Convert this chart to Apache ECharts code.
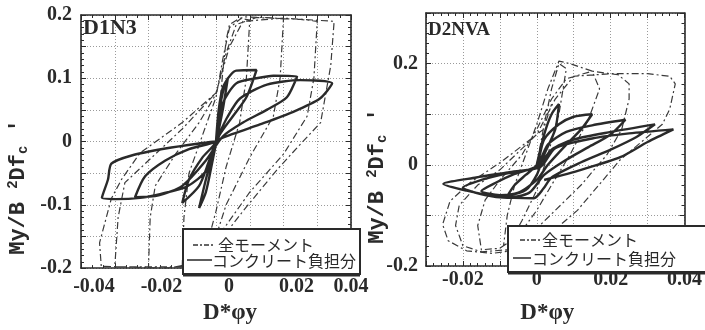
<!DOCTYPE html>
<html><head><meta charset="utf-8">
<script src="https://cdn.jsdelivr.net/npm/echarts@6/dist/echarts.min.js"></script>
<style>html,body{margin:0;padding:0;background:#fff}#c{width:705px;height:330px}</style>
</head><body><div id="c"></div>
<script>
// ---- data ----
const panelNames = ['D1N3', 'D2NVA'];
const seriesNames = ['全モーメント', 'コンクリート負担分'];
const xAxisTitle = 'D*φy';
const leftXTicks = [-0.04, -0.02, 0, 0.02, 0.04];
const leftYTicks = [-0.2, -0.1, 0, 0.1, 0.2];
const rightXTicks = [-0.02, 0, 0.02, 0.04];
const rightYTicks = [-0.2, 0, 0.2];

// D1N3 total moment (dash-dot)
const d1n3Total = [
  [0,0],[0.001,0.05],[0.002,0.11],[0.003,0.16],[0.004,0.185],[0.007,0.195],[0.010,0.192],
  [0.009,0.10],[0.007,0.03],[0.003,-0.04],[0.0,-0.11],[-0.003,-0.17],[-0.006,-0.193],[-0.010,-0.197],
  [-0.0095,-0.12],[-0.008,-0.05],[-0.004,0.01],[0.0,0.07],[0.002,0.13],[0.004,0.18],[0.008,0.197],[0.015,0.196],[0.020,0.194],
  [0.019,0.10],[0.017,0.04],[0.010,-0.025],[0.003,-0.10],[0.0,-0.15],[-0.004,-0.19],[-0.010,-0.198],[-0.020,-0.198],
  [-0.0195,-0.12],[-0.018,-0.07],[-0.012,-0.02],[-0.005,0.03],[0.0,0.075],[0.003,0.14],[0.006,0.185],[0.012,0.196],[0.025,0.193],[0.030,0.19],
  [0.029,0.10],[0.027,0.04],[0.020,-0.02],[0.010,-0.08],[0.0,-0.155],[-0.005,-0.19],[-0.012,-0.198],[-0.030,-0.198],
  [-0.029,-0.12],[-0.027,-0.065],[-0.020,-0.03],[-0.010,0.02],[0.0,0.077],[0.004,0.15],[0.008,0.19],[0.020,0.195],[0.035,0.19],
  [0.034,0.12],[0.031,0.03],[0.024,-0.01],[0.018,-0.045],[0.008,-0.11],[0.0,-0.165],[-0.006,-0.195],[-0.015,-0.2],[-0.034,-0.197],
  [-0.0345,-0.16],[-0.031,-0.09],[-0.028,-0.06],[-0.0225,-0.018],[-0.010,0.03],[0.0,0.077]
];
// D1N3 concrete share (solid)
const d1n3Concrete = [
  [0,0],[0.0008,0.05],[0.002,0.085],[0.0035,0.10],[0.002,0.05],[0.0005,0.01],[-0.001,-0.03],[-0.003,-0.08],[-0.005,-0.105],[-0.003,-0.06],[-0.001,-0.02],[0,0],
  [0.001,0.05],[0.003,0.095],[0.006,0.112],[0.012,0.113],[0.009,0.07],[0.005,0.04],[0.001,0.01],[-0.002,-0.03],[-0.005,-0.07],[-0.010,-0.097],[-0.008,-0.06],[-0.004,-0.025],[0,0],
  [0.002,0.06],[0.006,0.092],[0.012,0.10],[0.017,0.104],[0.024,0.103],[0.021,0.07],[0.015,0.05],[0.008,0.03],[0.002,0.008],[-0.003,-0.03],[-0.010,-0.07],[-0.017,-0.085],[-0.024,-0.088],[-0.021,-0.055],[-0.015,-0.03],[-0.008,-0.012],[0,0],
  [0.0006,0.008],[0.0033,0.038],[0.0071,0.068],[0.0151,0.09],[0.025,0.097],[0.0344,0.092],[0.0308,0.068],[0.0229,0.047],[0.013,0.027],[0.005,0.012],[0,0],
  [-0.0027,-0.045],[-0.0086,-0.071],[-0.0166,-0.083],[-0.0225,-0.089],[-0.0296,-0.091],[-0.0338,-0.089],[-0.032,-0.06],[-0.031,-0.035],[-0.025,-0.022],[-0.015,-0.011],[-0.005,-0.003],[0,0]
];
// D2NVA total moment (dash-dot)
const d2nvaTotal = [
  [0,0],[0.002,0.08],[0.004,0.15],[0.006,0.20],[0.008,0.19],[0.006,0.10],[0.003,0.02],[0.0,-0.05],[-0.004,-0.11],[-0.007,-0.15],[-0.009,-0.16],
  [-0.008,-0.10],[-0.006,-0.04],[-0.003,0.02],[0.0,0.08],[0.003,0.15],[0.006,0.205],[0.009,0.20],[0.015,0.185],[0.017,0.15],[0.014,0.09],
  [0.009,0.02],[0.004,-0.04],[0.0,-0.09],[-0.005,-0.14],[-0.010,-0.165],[-0.015,-0.168],[-0.016,-0.12],[-0.014,-0.07],[-0.010,-0.03],
  [-0.004,0.02],[0.0,0.07],[0.004,0.13],[0.008,0.17],[0.015,0.185],[0.022,0.178],[0.025,0.16],[0.025,0.13],[0.023,0.07],[0.019,0.02],
  [0.012,-0.04],[0.005,-0.09],[-0.002,-0.14],[-0.008,-0.168],[-0.015,-0.172],[-0.020,-0.16],[-0.022,-0.12],[-0.021,-0.08],[-0.016,-0.04],
  [-0.010,-0.01],[0.0,0.06],[0.005,0.13],[0.010,0.175],[0.020,0.18],[0.030,0.18],[0.036,0.175],[0.0375,0.16],[0.036,0.11],[0.034,0.08],
  [0.0226,0.01],[0.011,-0.09],[0.003,-0.14],[-0.005,-0.168],[-0.012,-0.175],[-0.019,-0.17],[-0.024,-0.15],[-0.0255,-0.118],[-0.0235,-0.072],
  [-0.018,-0.035],[-0.0096,0.006],[0.0018,0.07],[0.004,0.12]
];
// D2NVA concrete share (solid)
const d2nvaConcrete = [
  [0,0],[0.002,0.06],[0.004,0.10],[0.006,0.12],[0.005,0.07],[0.002,0.02],[0.0,-0.02],[-0.003,-0.05],[-0.008,-0.062],[-0.006,-0.04],[-0.003,-0.02],[0.0,0.0],
  [0.002,0.05],[0.006,0.08],[0.010,0.095],[0.015,0.10],[0.012,0.07],[0.008,0.04],[0.003,0.0],[0.0,-0.03],[-0.005,-0.055],[-0.010,-0.06],[-0.015,-0.052],[-0.011,-0.035],[-0.006,-0.018],[0.0,-0.002],
  [0.003,0.04],[0.008,0.065],[0.015,0.078],[0.024,0.089],[0.020,0.06],[0.014,0.035],[0.008,0.01],[0.002,-0.02],[-0.002,-0.055],[-0.008,-0.065],[-0.014,-0.06],[-0.020,-0.045],[-0.015,-0.03],[-0.008,-0.017],[0.0,-0.005],
  [0.004,0.03],[0.010,0.05],[0.020,0.065],[0.032,0.08],[0.027,0.055],[0.020,0.03],[0.012,0.005],[0.004,-0.025],[0.0018,-0.047],[-0.0008,-0.066],[-0.0104,-0.063],[-0.019,-0.051],[-0.0253,-0.038],[-0.0164,-0.025],[-0.0078,-0.015],[0.001,-0.004],
  [0.005,0.033],[0.015,0.052],[0.025,0.062],[0.037,0.07],[0.030,0.045],[0.0226,0.015],[0.012,-0.01],[0.002,-0.03]
];

// ---- styling ----
const SERIF = '"Liberation Serif", "DejaVu Serif", serif';
const MONO = '"Liberation Mono", "DejaVu Sans Mono", monospace';
const CJK = '"Noto Sans CJK JP", sans-serif';
const INK = '#2a2a2a';

function hasTick(list, v) { return list.some(t => Math.abs(t - v) < 1e-9); }
function fmt(v, d) { return Math.abs(v) < 1e-9 ? '0' : v.toFixed(d); }

const labelBase = { fontFamily: SERIF, fontWeight: 'bold', fontSize: 20, color: INK };
const lineStyleAxis = { color: INK, width: 1.6 };
const grid0 = { left: 81, top: 15, width: 270, height: 263 };
const grid1 = { left: 426, top: 13, width: 269, height: 260 };

function frameAxis(extra) {
  return Object.assign({
    type: 'value', axisLine: { show: true, onZero: false, lineStyle: lineStyleAxis },
    axisTick: { show: true, inside: true, length: 5, lineStyle: { color: INK } },
    minorTick: { show: true, length: 3, lineStyle: { color: INK } },
    axisLabel: { show: false }, splitLine: { show: false }
  }, extra);
}
const gridLine = { show: true, lineStyle: { color: '#9a9a9a', type: [1, 2], width: 1 } };
const nameStyle = { fontFamily: SERIF, fontWeight: 'bold', fontSize: 23, color: INK };

const option = {
  backgroundColor: '#ffffff',
  animation: false,
  grid: [grid0, grid1],
  xAxis: [
    frameAxis({ gridIndex: 0, position: 'bottom', min: -0.04, max: 0.04, interval: 0.01, splitLine: gridLine,
      minorTick: { show: true, splitNumber: 3, length: 3, lineStyle: { color: INK } },
      axisLabel: Object.assign({ show: true, margin: 9,
        formatter: v => hasTick(leftXTicks, v) ? (Math.abs(v - 0.04) < 1e-9 ? '{n|' + fmt(v, 2) + '}' : '{s|' + fmt(v, 2) + '}') : '',
        rich: { s: Object.assign({ padding: [0, 0, 0, 26] }, labelBase), n: Object.assign({}, labelBase) } }, labelBase),
      name: xAxisTitle, nameLocation: 'middle', nameGap: 31,
      nameTextStyle: Object.assign({ padding: [0, 0, 0, 28] }, nameStyle) }),
    frameAxis({ gridIndex: 0, position: 'top', min: -0.04, max: 0.04, interval: 0.01,
      minorTick: { show: true, splitNumber: 3, length: 3, lineStyle: { color: INK } } }),
    frameAxis({ gridIndex: 1, position: 'bottom', min: -0.03, max: 0.04, interval: 0.01, splitLine: gridLine,
      minorTick: { show: true, splitNumber: 5, length: 3, lineStyle: { color: INK } },
      axisLabel: Object.assign({ show: true, margin: 4, formatter: v => hasTick(rightXTicks, v) ? fmt(v, 2) : '' }, labelBase),
      name: xAxisTitle, nameLocation: 'middle', nameGap: 36,
      nameTextStyle: Object.assign({ padding: [0, 16, 0, 0] }, nameStyle) }),
    frameAxis({ gridIndex: 1, position: 'top', min: -0.03, max: 0.04, interval: 0.01,
      minorTick: { show: true, splitNumber: 5, length: 3, lineStyle: { color: INK } } })
  ],
  yAxis: [
    frameAxis({ gridIndex: 0, position: 'left', min: -0.2, max: 0.2, interval: 0.05, splitLine: gridLine,
      minorTick: { show: true, splitNumber: 5, length: 3, lineStyle: { color: INK } },
      axisLabel: Object.assign({ show: true, margin: 9, formatter: v => hasTick(leftYTicks, v) ? fmt(v, 1) : '' }, labelBase) }),
    frameAxis({ gridIndex: 0, position: 'right', min: -0.2, max: 0.2, interval: 0.05,
      minorTick: { show: true, splitNumber: 5, length: 3, lineStyle: { color: INK } } }),
    frameAxis({ gridIndex: 1, position: 'left', min: -0.2, max: 0.3, interval: 0.1, splitLine: gridLine,
      minorTick: { show: true, splitNumber: 5, length: 3, lineStyle: { color: INK } },
      axisLabel: Object.assign({ show: true, margin: 8, formatter: v => hasTick(rightYTicks, v) ? fmt(v, 1) : '' }, labelBase) }),
    frameAxis({ gridIndex: 1, position: 'right', min: -0.2, max: 0.3, interval: 0.1,
      minorTick: { show: true, splitNumber: 5, length: 3, lineStyle: { color: INK } } })
  ],
  series: [
    { name: seriesNames[0], type: 'line', xAxisIndex: 0, yAxisIndex: 0, data: d1n3Total, showSymbol: false, clip: true,
      lineStyle: { color: '#3a3a3a', width: 1.2, type: [7, 3, 2, 3] } },
    { name: seriesNames[1], type: 'line', xAxisIndex: 0, yAxisIndex: 0, data: d1n3Concrete, showSymbol: false, clip: true, smooth: 0.25,
      lineStyle: { color: '#2a2a2a', width: 2.4 } },
    { name: seriesNames[0], type: 'line', xAxisIndex: 2, yAxisIndex: 2, data: d2nvaTotal, showSymbol: false, clip: true,
      lineStyle: { color: '#3a3a3a', width: 1.2, type: [7, 3, 2, 3] } },
    { name: seriesNames[1], type: 'line', xAxisIndex: 2, yAxisIndex: 2, data: d2nvaConcrete, showSymbol: false, clip: true, smooth: 0.25,
      lineStyle: { color: '#2a2a2a', width: 2.4 } }
  ],
  graphic: [
    { type: 'text', x: 83, y: 17, z: 50, style: { text: panelNames[0], font: 'bold 22px ' + SERIF, fill: INK } },
    { type: 'text', x: 428, y: 21, z: 50, style: { text: panelNames[1], font: 'bold 19px ' + SERIF, fill: INK } },
    { type: 'text', x: 18, y: 187, rotation: Math.PI / 2, z: 50,
      style: { text: '{a|My/B }{p|2}{a|Df}{b|c}{a| \'}', align: 'center', verticalAlign: 'middle',
        rich: { a: { font: 'bold 22px ' + MONO, fill: INK }, p: { font: 'bold 14px ' + MONO, fill: INK, padding: [0, 0, 10, 0] },
                b: { font: 'bold 14px ' + MONO, fill: INK, padding: [10, 0, 0, 0] } } } },
    { type: 'text', x: 377, y: 176, rotation: Math.PI / 2, z: 50,
      style: { text: '{a|My/B }{p|2}{a|Df}{b|c}{a| \'}', align: 'center', verticalAlign: 'middle',
        rich: { a: { font: 'bold 22px ' + MONO, fill: INK }, p: { font: 'bold 14px ' + MONO, fill: INK, padding: [0, 0, 10, 0] },
                b: { font: 'bold 14px ' + MONO, fill: INK, padding: [10, 0, 0, 0] } } } },
    // legend left
    { type: 'rect', z: 60, shape: { x: 183, y: 229, width: 177, height: 45 }, style: { fill: '#fff', stroke: INK, lineWidth: 2 } },
    { type: 'line', z: 61, shape: { x1: 183, y1: 275, x2: 360, y2: 275 }, style: { stroke: INK, lineWidth: 3 } },
    { type: 'line', z: 61, shape: { x1: 193, y1: 245, x2: 215, y2: 245 }, style: { stroke: '#333', lineWidth: 1.4, lineDash: [5, 2, 2, 2] } },
    { type: 'line', z: 61, shape: { x1: 187, y1: 260, x2: 212, y2: 260 }, style: { stroke: '#333', lineWidth: 1.6 } },
    { type: 'text', z: 61, x: 218, y: 245, style: { text: seriesNames[0], font: '16px ' + CJK, fill: INK, verticalAlign: 'middle' } },
    { type: 'text', z: 61, x: 212, y: 261, style: { text: seriesNames[1], font: '16px ' + CJK, fill: INK, verticalAlign: 'middle' } },
    // legend right
    { type: 'rect', z: 60, shape: { x: 508, y: 226, width: 205, height: 46 }, style: { fill: '#fff', stroke: INK, lineWidth: 2 } },
    { type: 'line', z: 61, shape: { x1: 508, y1: 273, x2: 705, y2: 273 }, style: { stroke: INK, lineWidth: 3 } },
    { type: 'line', z: 61, shape: { x1: 520, y1: 240, x2: 540, y2: 240 }, style: { stroke: '#333', lineWidth: 1.4, lineDash: [5, 2, 2, 2] } },
    { type: 'line', z: 61, shape: { x1: 513, y1: 258, x2: 531, y2: 258 }, style: { stroke: '#333', lineWidth: 1.6 } },
    { type: 'text', z: 61, x: 542, y: 240, style: { text: seriesNames[0], font: '16px ' + CJK, fill: INK, verticalAlign: 'middle' } },
    { type: 'text', z: 61, x: 532, y: 259, style: { text: seriesNames[1], font: '16px ' + CJK, fill: INK, verticalAlign: 'middle' } }
  ]
};
const chart = echarts.init(document.getElementById('c'), null, { renderer: 'canvas' });
chart.setOption(option);
</script></body></html>
